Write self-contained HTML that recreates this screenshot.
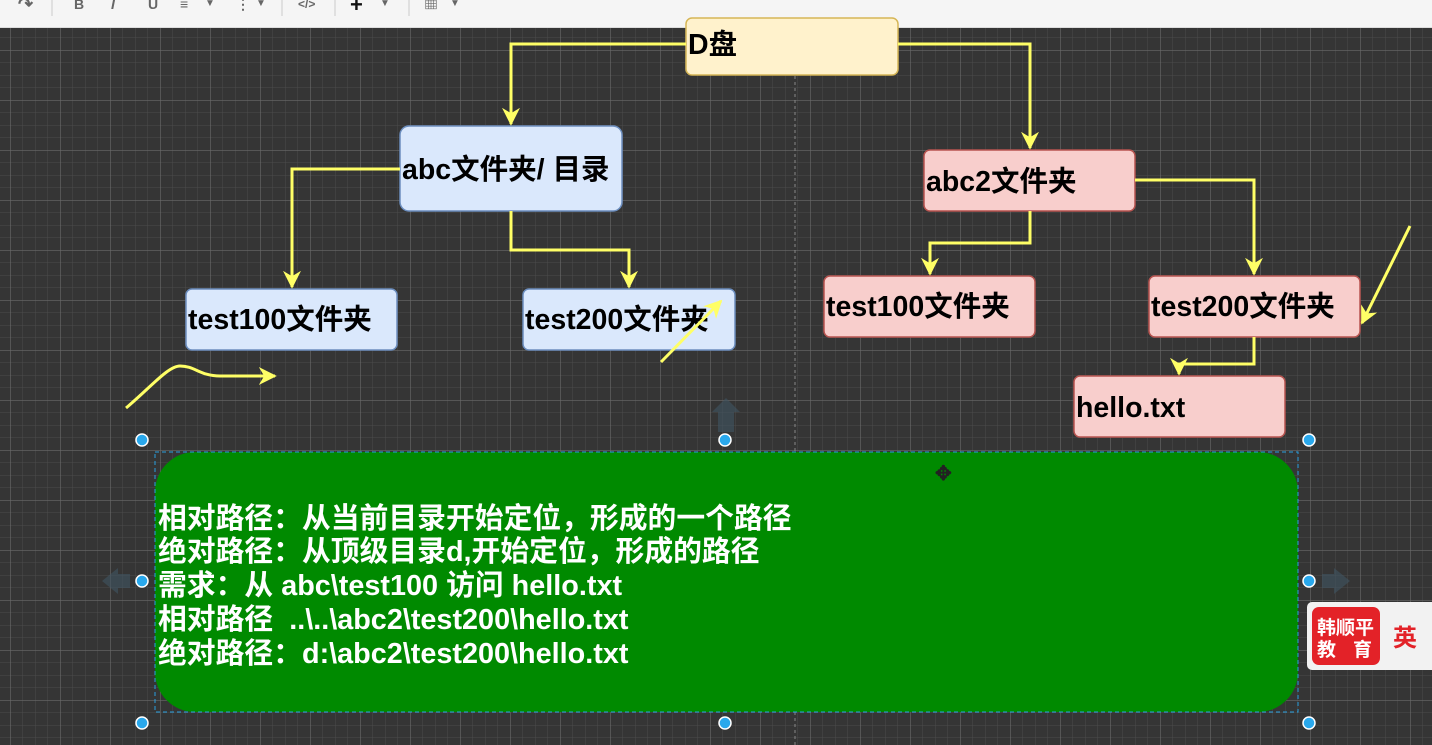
<!DOCTYPE html>
<html><head><meta charset="utf-8"><style>
html,body{margin:0;padding:0;width:1432px;height:745px;overflow:hidden;background:#353535}
svg{display:block}
text{font-family:"Liberation Sans","Noto Sans CJK SC",sans-serif;font-weight:bold}
</style></head><body>
<svg width="1432" height="745" viewBox="0 0 1432 745" xmlns="http://www.w3.org/2000/svg">
<defs>
<pattern id="minor" x="10" y="0" width="12.5" height="12.5" patternUnits="userSpaceOnUse">
<path d="M0 0H12.5M0 0V12.5" stroke="#4b4b4b" stroke-width="1" fill="none"/>
</pattern>
<pattern id="major" x="10" y="0" width="50" height="50" patternUnits="userSpaceOnUse">
<path d="M0 0H50M0 0V50" stroke="#6a6a6a" stroke-width="1.2" fill="none"/>
</pattern>
<marker id="ar" viewBox="0 0 10 10" refX="9" refY="5" markerWidth="6" markerHeight="6" orient="auto">
<path d="M0 0L10 5L0 10L3 5Z" fill="#ffff66"/>
</marker>
</defs>
<rect x="0" y="28" width="1432" height="717" fill="#353535"/>
<rect x="0" y="28" width="1432" height="717" fill="url(#minor)"/>
<rect x="0" y="28" width="1432" height="717" fill="url(#major)"/>
<!-- toolbar -->
<rect x="0" y="0" width="1432" height="28" fill="#f5f5f5"/>
<line x1="0" y1="27.5" x2="1432" y2="27.5" stroke="#ddd"/>
<g fill="#666" font-family="Liberation Sans" font-size="14">
<text x="18" y="10" font-size="18">↷</text>
<text x="74" y="9">B</text><text x="111" y="9" font-style="italic">I</text><text x="148" y="9">U</text>
<text x="180" y="9">≡</text><text x="205" y="6" font-size="10">▼</text>
<text x="236" y="9">⋮</text><text x="256" y="6" font-size="10">▼</text>
<text x="298" y="8" font-size="12">&lt;/&gt;</text>
<text x="350" y="12" font-size="22" fill="#111">+</text><text x="380" y="6" font-size="10">▼</text>
<text x="424" y="9">▦</text><text x="450" y="6" font-size="10">▼</text>
</g>
<g stroke="#ccc"><line x1="52" y1="0" x2="52" y2="16"/><line x1="282" y1="0" x2="282" y2="16"/><line x1="335" y1="0" x2="335" y2="16"/><line x1="409" y1="0" x2="409" y2="16"/></g>
<!-- vertical dashed guide -->
<line x1="795" y1="28" x2="795" y2="745" stroke="#888" stroke-dasharray="3,3"/>
<!-- boxes -->
<rect x="686" y="18" width="212" height="57" rx="6" fill="#fff2cc" stroke="#d6b656" stroke-width="1.5"/>
<text x="688" y="54" font-size="28.5">D盘</text>
<rect x="400" y="126" width="222" height="85" rx="9" fill="#dae8fc" stroke="#6c8ebf" stroke-width="1.5"/>
<text x="402" y="179" font-size="28.5">abc文件夹/ 目录</text>
<rect x="186" y="289" width="211" height="61" rx="6" fill="#dae8fc" stroke="#6c8ebf" stroke-width="1.5"/>
<text x="188" y="329" font-size="28.5">test100文件夹</text>
<rect x="523" y="289" width="212" height="61" rx="6" fill="#dae8fc" stroke="#6c8ebf" stroke-width="1.5"/>
<text x="525" y="329" font-size="28.5">test200文件夹</text>
<rect x="924" y="150" width="211" height="61" rx="6" fill="#f8cecc" stroke="#b85450" stroke-width="1.5"/>
<text x="926" y="191" font-size="28.5">abc2文件夹</text>
<rect x="824" y="276" width="211" height="61" rx="6" fill="#f8cecc" stroke="#b85450" stroke-width="1.5"/>
<text x="826" y="316" font-size="28.5">test100文件夹</text>
<rect x="1149" y="276" width="211" height="61" rx="6" fill="#f8cecc" stroke="#b85450" stroke-width="1.5"/>
<text x="1151" y="316" font-size="28.5">test200文件夹</text>
<rect x="1074" y="376" width="211" height="61" rx="6" fill="#f8cecc" stroke="#b85450" stroke-width="1.5"/>
<text x="1076" y="417" font-size="28.5">hello.txt</text>
<!-- connectors -->
<g stroke="#ffff66" stroke-width="3" fill="none" marker-end="url(#ar)">
<path d="M686 44H511V124"/>
<path d="M898 44H1030V148"/>
<path d="M400 169H292V287"/>
<path d="M511 211V250H629V287"/>
<path d="M1030 211V243H930V274"/>
<path d="M1135 180H1254V274"/>
<path d="M1254 337V364H1179V374"/>
<path d="M1410 226L1362 323"/>
<path d="M661 362L721 301"/>
<path d="M126 408C150 388 168 366 180 366C195 366 200 376 220 376H275"/>
</g>
<!-- faint arrows -->
<g fill="#3f5563" opacity="0.6">
<path d="M718 432V412H712L726 398L740 412H734V432Z"/>
<path d="M130 574H118V568L102 581L118 594V588H130Z"/>
<path d="M1322 574H1334V568L1350 581L1334 594V588H1322Z"/>
</g>
<!-- green box -->
<rect x="155" y="452" width="1143" height="260" rx="40" fill="#008a00"/>
<rect x="155" y="452" width="1143" height="260" fill="none" stroke="#29a0e0" stroke-width="1" stroke-dasharray="4,3"/>
<g fill="#fff" font-size="28.8">
<text x="158" y="528">相对路径：从当前目录开始定位，形成的一个路径</text>
<text x="158" y="561">绝对路径：从顶级目录d,开始定位，形成的路径</text>
<text x="158" y="595">需求：从 abc\test100 访问 hello.txt</text>
<text x="158" y="629">相对路径&#160;&#160;..\..\abc2\test200\hello.txt</text>
<text x="158" y="663">绝对路径：d:\abc2\test200\hello.txt</text>
</g>
<text x="935" y="480" font-size="20" fill="#222" font-weight="normal">✥</text>
<!-- handles -->
<g fill="#29a8ec" stroke="#fff" stroke-width="1.5">
<circle cx="142" cy="440" r="6"/><circle cx="725" cy="440" r="6"/><circle cx="1309" cy="440" r="6"/>
<circle cx="142" cy="581" r="6"/><circle cx="1309" cy="581" r="6"/>
<circle cx="142" cy="723" r="6"/><circle cx="725" cy="723" r="6"/><circle cx="1309" cy="723" r="6"/>
</g>
<!-- logo widget -->
<rect x="1307" y="602" width="130" height="68" rx="5" fill="#f2f2f2"/>
<rect x="1312" y="607" width="68" height="58" rx="7" fill="#e32228"/>
<g fill="#fff" font-size="19" font-weight="normal">
<text x="1317" y="634">韩顺平</text>
<text x="1317" y="656">教</text><text x="1353" y="656">育</text>
</g>
<text x="1393" y="646" font-size="24" fill="#e32228" font-weight="normal">英</text>
</svg>
</body></html>
